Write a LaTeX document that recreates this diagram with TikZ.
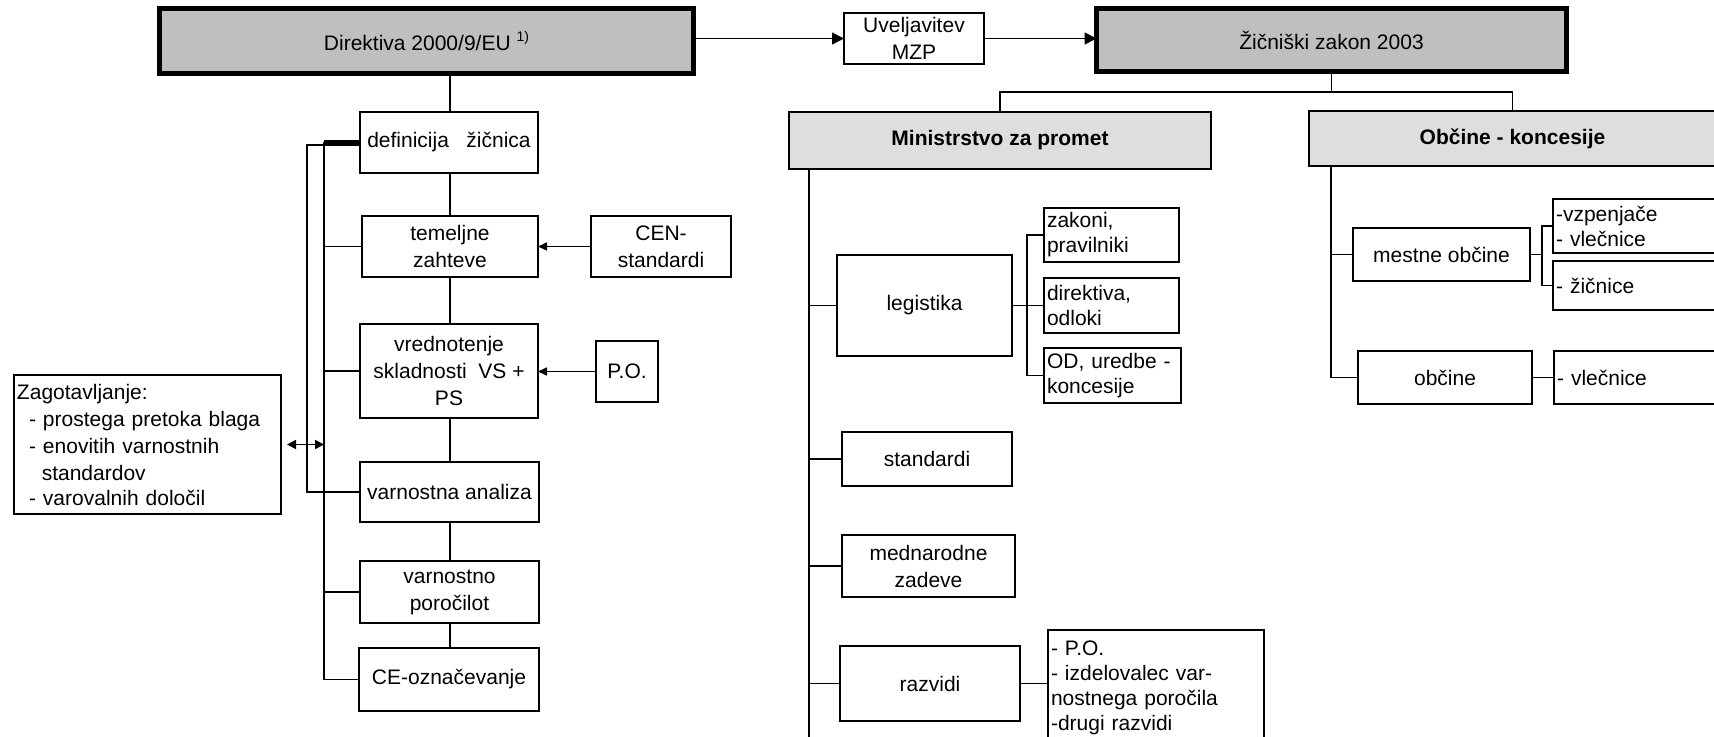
\documentclass[tikz,border=0pt]{standalone}
\usepackage{fontspec}
\setmainfont{Liberation Sans}
\usetikzlibrary{arrows.meta}
\newcommand\bx[7]{%
  \pgfmathsetlengthmacro\bxw{(#5-#3)*0.5pt}%
  \pgfmathsetlengthmacro\bxh{(#6-#4)*0.5pt}%
  \node[#1, minimum width=\bxw, minimum height=\bxh] (#2) at ({(#3+#5)/2},{(#4+#6)/2}) {#7};}
\newcommand\lbx[6]{%
  \pgfmathsetlengthmacro\bxw{(#4-#2)*0.5pt}%
  \pgfmathsetlengthmacro\bxh{(#5-#3)*0.5pt}%
  \pgfmathsetlengthmacro\bxt{(#4-#2)*0.5pt-3pt}%
  \node[lbox, text width=\bxt, minimum width=\bxw, minimum height=\bxh] (#1) at ({(#2+#4)/2},{(#3+#5)/2}) {#6};}
\begin{document}
\begin{tikzpicture}[x=0.5pt,y=-0.5pt, line width=0.8pt,
  every node/.style={font=\fontsize{10.5}{13.5}\selectfont},
  box/.style={draw, inner sep=0pt, outer sep=0pt, align=center},
  lbox/.style={draw, inner xsep=1.5pt, inner ysep=0pt, outer sep=0pt, align=left,
    font=\fontsize{10.5}{12.5}\selectfont},
  head/.style={box, line width=2.5pt, fill=black!25},
  sub/.style={box, fill=black!13, font=\fontsize{10.5}{13.5}\selectfont\bfseries},
  arr/.style={-{Triangle[length=6pt,width=6pt]}},
  sarr/.style={-{Triangle[length=4.5pt,width=4pt]}},
  dbl/.style={{Triangle[length=4.5pt,width=4.5pt]}-{Triangle[length=4.5pt,width=4.5pt]}},
]
\useasboundingbox (0,0) rectangle (1714,737);
\clip (0,0) rectangle (1714,737);
% top row
\bx{head}{dir}{159.5}{8.5}{693.5}{73.5}{Direktiva 2000/9/EU \raisebox{0.8ex}{\fontsize{7}{8}\selectfont 1)}}
\bx{box}{uv}{844}{13}{984}{64}{Uveljavitev\\MZP}
\bx{head}{zak}{1096.5}{8.5}{1566.5}{71.5}{Žičniški zakon 2003}
\draw[arr] (uv.west -| dir.east) -- (uv.west);
\draw[arr] (uv.east) -- (uv.east -| zak.west);
% left column
\bx{box}{def}{360}{112}{538}{173}{definicija~~ žičnica}
\bx{box}{tem}{362}{216}{538}{277}{temeljne\\zahteve}
\bx{box}{cen}{591}{216}{731}{277}{CEN-\\standardi}
\bx{box}{vre}{360}{324}{538}{418}{vrednotenje\\skladnosti~~VS +\\PS}
\bx{box}{po}{596}{341}{658}{402}{P.O.}
\bx{box}{va}{360}{462}{539}{522}{varnostna analiza}
\bx{box}{vp}{360}{561}{539}{623}{varnostno\\poročilot}
\bx{box}{ce}{359}{648}{539}{711}{CE-označevanje}
\lbx{zag}{14}{375}{281}{514}{\fontsize{10.5}{13.5}\selectfont Zagotavljanje:\\\hspace*{6pt}- prostega pretoka blaga\\\hspace*{6pt}- enovitih varnostnih\\\hspace*{12.4pt}standardov\\\hspace*{6pt}- varovalnih določil}
\coordinate (cx) at (450,0);
\draw (def.north -| cx) -- (dir.south -| cx);
\draw (def.south -| cx) -- (tem.north -| cx);
\draw (tem.south -| cx) -- (vre.north -| cx);
\draw (vre.south -| cx) -- (va.north -| cx);
\draw (va.south -| cx) -- (vp.north -| cx);
\draw (vp.south -| cx) -- (ce.north -| cx);
\draw[sarr] (cen.west) -- (tem.east);
\draw[sarr] (po.west) -- (po.west -| vre.east);
\coordinate (ib) at (324,142);
\coordinate (ob) at (307,145);
\draw[line width=2pt] (def.west) -- (def.west -| ib);
\draw (def.west -| ib) |- (ce.west);
\foreach \n in {tem,vre,vp} \draw (\n.west) -- (\n.west -| ib);
\draw (va.west) -| (ob) -- (ob -| def.west);
\draw[dbl] ([xshift=3pt]zag.east) -- (zag.east -| ib);
% Ministrstvo
\bx{sub}{min}{789}{112}{1211}{169}{Ministrstvo za promet}
\bx{sub}{obc}{1309}{111}{1716}{166}{Občine - koncesije}
\coordinate (j) at (1331,92);
\draw (zak.south) -- (zak.south |- j);
\draw (min.north) |- (obc.north |- j) -- (obc.north);
\bx{box}{leg}{837}{255}{1012}{356}{legistika}
\lbx{zk}{1044}{208}{1179}{262}{zakoni,\\pravilniki}
\lbx{dk}{1044}{278}{1179}{333}{direktiva,\\odloki}
\lbx{od}{1044}{348}{1181}{403}{OD, uredbe -\\koncesije}
\bx{box}{std}{842}{432}{1012}{486}{standardi}
\bx{box}{med}{842}{535}{1015}{597}{mednarodne\\zadeve}
\bx{box}{raz}{840}{646}{1020}{721}{razvidi}
\lbx{rz}{1048}{630}{1264}{746}{- P.O.\\- izdelovalec var-\\nostnega poročila\\-drugi razvidi}
\coordinate (mt) at (809,169);
\coordinate (mb) at (809,760);
\draw (mt) -- (mb);
\foreach \n in {leg,std,med,raz} \draw (\n.west) -- (\n.west -| mt);
\coordinate (lb) at (1027,300);
\draw (leg.east) -- (dk.west);
\draw (zk.west) -- (zk.west -| lb) -- (od.west -| lb) -- (od.west);
\draw (raz.east) -- (raz.east -| rz.west);
% Obcine
\bx{box}{mo}{1353}{228}{1530}{281}{mestne občine}
\lbx{vz}{1553}{199}{1730}{253}{-vzpenjače\\- vlečnice}
\lbx{zi}{1553}{261}{1730}{310}{- žičnice}
\bx{box}{obn}{1358}{351}{1532}{404}{občine}
\lbx{vl}{1554}{351}{1730}{404}{- vlečnice}
\coordinate (ot) at (1331,166);
\draw (ot) |- (obn.west);
\draw (mo.west) -- (mo.west -| ot);
\coordinate (mbr) at (1542,250);
\draw (vz.west) -- (vz.west -| mbr) -- (zi.west -| mbr) -- (zi.west);
\draw (mo.east) -- (mo.east -| mbr);
\draw (obn.east) -- (vl.west);
\end{tikzpicture}
\end{document}
